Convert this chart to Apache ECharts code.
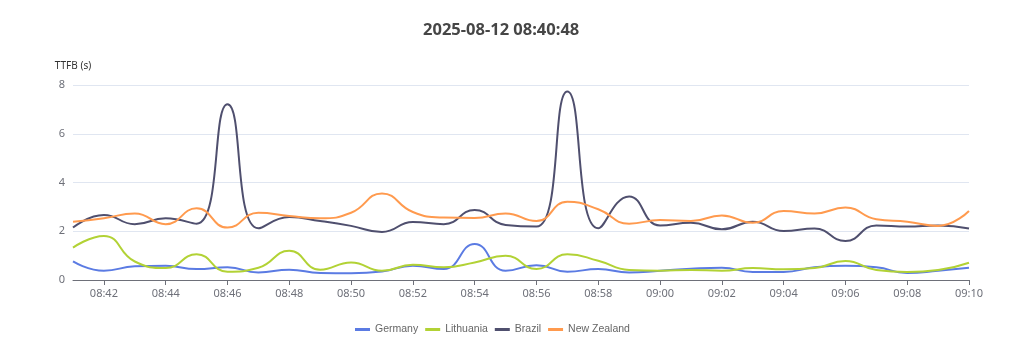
<!DOCTYPE html>
<html>
<head>
<meta charset="utf-8">
<script src="https://cdn.jsdelivr.net/npm/echarts@6/dist/echarts.min.js"></script>
<style>
html,body{margin:0;padding:0;background:#fff;}
#chart{width:1024px;height:358px;}
</style>
</head>
<body>
<div id="chart"></div>
<script>
const titleText = '2025-08-12 08:40:48';
const yAxisName = 'TTFB (s)';
const times = ['08:41','08:42','08:43','08:44','08:45','08:46','08:47','08:48','08:49','08:50',
  '08:51','08:52','08:53','08:54','08:55','08:56','08:57','08:58','08:59','09:00',
  '09:01','09:02','09:03','09:04','09:05','09:06','09:07','09:08','09:09','09:10'];
const seriesNames = ['Germany','Lithuania','Brazil','New Zealand'];
const germany = [0.76,0.38,0.56,0.58,0.45,0.52,0.31,0.42,0.29,0.28,
  0.35,0.58,0.45,1.48,0.38,0.61,0.34,0.45,0.31,0.38,
  0.46,0.50,0.33,0.33,0.52,0.58,0.52,0.29,0.38,0.50];
const lithuania = [1.33,1.81,0.76,0.49,1.06,0.34,0.50,1.20,0.42,0.72,
  0.38,0.63,0.52,0.72,0.99,0.45,1.06,0.79,0.41,0.38,
  0.41,0.38,0.49,0.44,0.49,0.78,0.41,0.33,0.41,0.71];
const brazil = [2.15,2.67,2.29,2.53,2.31,7.21,2.12,2.58,2.42,2.22,
  1.97,2.38,2.29,2.87,2.26,2.19,7.73,2.12,3.43,2.24,
  2.35,2.08,2.39,2.01,2.11,1.60,2.24,2.19,2.24,2.11];
const newZealand = [2.39,2.53,2.73,2.29,2.94,2.15,2.76,2.63,2.53,2.76,
  3.55,2.79,2.56,2.54,2.73,2.42,3.21,2.90,2.31,2.46,
  2.42,2.65,2.35,2.83,2.73,2.97,2.49,2.39,2.22,2.83];
const colors = ['#5b7be3','#b2d235','#4f4f6e','#ff9a4e'];

const chart = echarts.init(document.getElementById('chart'));
const dataSets = [germany, lithuania, brazil, newZealand];
const fontFam = 'Noto Sans';
chart.setOption({
  animation: false,
  color: colors,
  textStyle: {fontFamily: fontFam},
  title: {
    text: titleText,
    left: 418,
    top: 17,
    textStyle: {fontSize: 16.5, fontWeight: 'bold', color: '#464646', fontFamily: fontFam}
  },
  legend: {
    bottom: 18,
    left: 350,
    itemWidth: 15,
    itemHeight: 3,
    itemGap: 7,
    icon: 'rect',
    textStyle: {fontSize: 10.5, color: '#666', fontFamily: 'Liberation Sans'},
    data: seriesNames
  },
  grid: {left: 73, right: 55, top: 85, bottom: 78, containLabel: false},
  xAxis: {
    type: 'category',
    boundaryGap: false,
    data: times,
    axisLine: {lineStyle: {color: '#6e7079'}},
    axisTick: {alignWithLabel: true, interval: (i) => i % 2 === 1},
    axisLabel: {interval: (i) => i % 2 === 1, color: '#6e7079', fontSize: 11, fontFamily: fontFam}
  },
  yAxis: {
    type: 'value',
    min: 0, max: 8, interval: 2,
    name: yAxisName,
    nameGap: 14,
    nameTextStyle: {color: '#333', fontSize: 10, align: 'center', fontFamily: fontFam},
    axisLabel: {color: '#6e7079', fontSize: 11, fontFamily: fontFam},
    splitLine: {lineStyle: {color: '#e0e6f1'}}
  },
  series: seriesNames.map((n, i) => ({
    name: n,
    type: 'line',
    smooth: true,
    showSymbol: false,
    symbol: 'none',
    lineStyle: {width: 2},
    data: dataSets[i]
  }))
});
</script>
</body>
</html>
